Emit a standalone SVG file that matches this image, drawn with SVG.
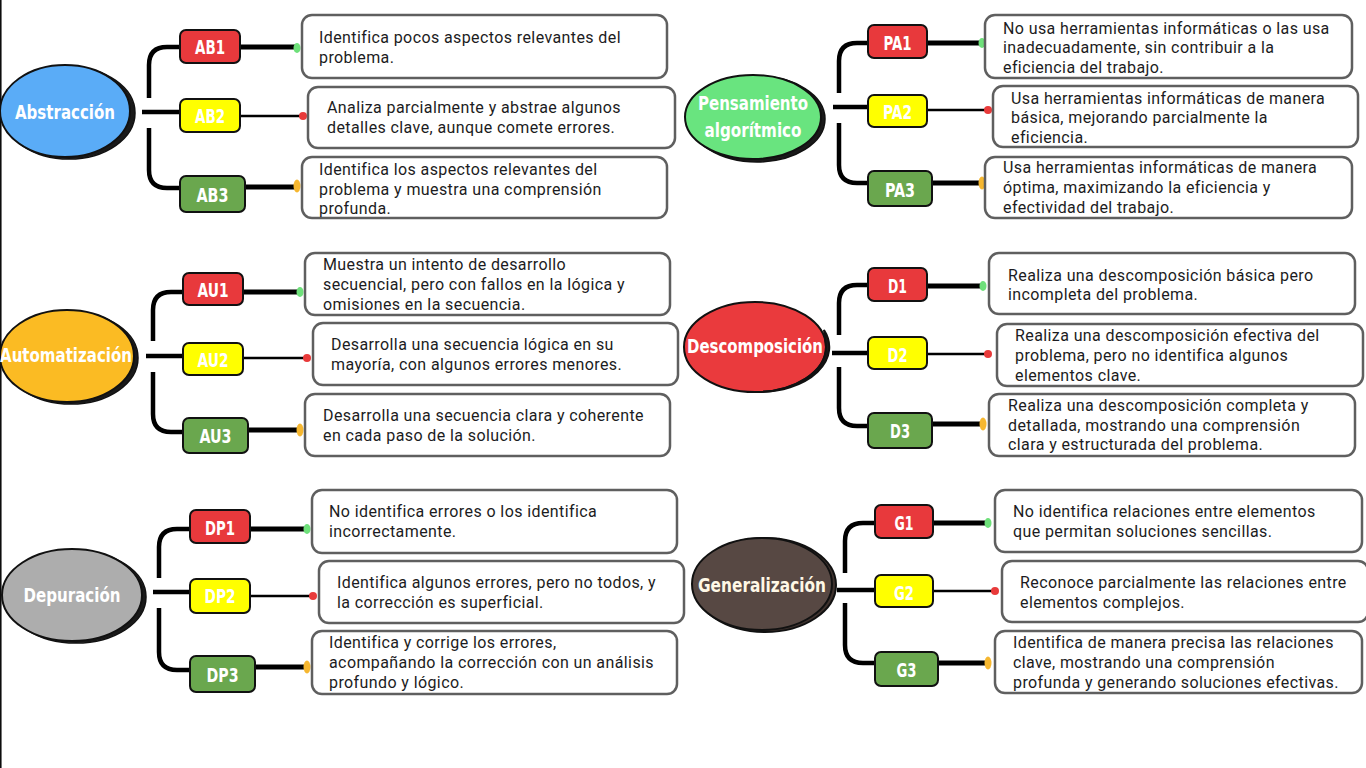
<svg xmlns="http://www.w3.org/2000/svg" width="1366" height="768" viewBox="0 0 1366 768">
<style>
.bg{fill:#fff}
.shadow{fill:#1a1a1a;stroke:#111;stroke-width:1.5}
.main{stroke:#111;stroke-width:2}
.title{font-family:"DejaVu Sans",sans-serif;font-stretch:condensed;font-weight:bold;font-size:20px;fill:#fff;text-anchor:middle}
.lbl{stroke:#111;stroke-width:2}
.lt{font-family:"DejaVu Sans",sans-serif;font-stretch:condensed;font-weight:bold;font-size:19px;fill:#fff;text-anchor:middle}
.r{fill:#e8393c}.y{fill:#ffff00}.g{fill:#6aa74e}
.box{fill:#fff;stroke:#5f5f5f;stroke-width:2.5}
.bt{font-family:Roboto,"Liberation Sans",sans-serif;font-size:16px;letter-spacing:0.4px;fill:#1c1c22}
.trunk{fill:none;stroke:#000;stroke-width:4.5}
.thick{fill:none;stroke:#000;stroke-width:5}
.thin{fill:none;stroke:#000;stroke-width:2.5}
.dg{fill:#6ee07a}.dr{fill:#e83a3a}.do{fill:#f6b730}
</style>
<rect class="bg" x="0" y="0" width="1366" height="768"/>
<line x1="0.8" y1="0" x2="0.8" y2="768" stroke="#000" stroke-width="1.5"/>

<g id="connectors">
<path class="trunk" d="M142 112 H180"/>
<path class="trunk" d="M149 98 V65 Q149 47 167 47 H180"/>
<path class="trunk" d="M149 128 V170 Q149 188 167 188 H180"/>
<path class="thick" d="M240 47 H296"/>
<path class="thin" d="M240 116 H302"/>
<path class="thick" d="M245 187 H296"/>
<ellipse class="dg" cx="297" cy="48" rx="3.5" ry="5"/>
<circle class="dr" cx="303" cy="116" r="4"/>
<ellipse class="do" cx="297" cy="186" rx="3.5" ry="6.5"/>
<path class="trunk" d="M833 107 H868"/>
<path class="trunk" d="M839 93 V61 Q839 43 857 43 H868"/>
<path class="trunk" d="M839 123 V165 Q839 183 857 183 H868"/>
<path class="thick" d="M927 43 H981"/>
<path class="thin" d="M927 110 H987"/>
<path class="thick" d="M932 183 H981"/>
<ellipse class="dg" cx="982" cy="43" rx="3.5" ry="5"/>
<circle class="dr" cx="988" cy="110" r="4"/>
<ellipse class="do" cx="982" cy="183" rx="3.5" ry="6.5"/>
<path class="trunk" d="M146 356 H183"/>
<path class="trunk" d="M153 341 V310 Q153 292 171 292 H183"/>
<path class="trunk" d="M153 372 V414 Q153 432 171 432 H183"/>
<path class="thick" d="M243 292 H299"/>
<path class="thin" d="M243 358 H306"/>
<path class="thick" d="M248 430 H299"/>
<ellipse class="dg" cx="300" cy="292" rx="3.5" ry="5"/>
<circle class="dr" cx="307" cy="358" r="4"/>
<ellipse class="do" cx="300" cy="430" rx="3.5" ry="6.5"/>
<path class="trunk" d="M832 353 H868"/>
<path class="trunk" d="M839 335 V303 Q839 285 857 285 H868"/>
<path class="trunk" d="M839 367 V408 Q839 426 857 426 H868"/>
<path class="thick" d="M927 286 H982"/>
<path class="thin" d="M927 354 H987"/>
<path class="thick" d="M932 424 H982"/>
<ellipse class="dg" cx="983" cy="286" rx="3.5" ry="5"/>
<circle class="dr" cx="988" cy="354" r="4"/>
<ellipse class="do" cx="983" cy="424" rx="3.5" ry="6.5"/>
<path class="trunk" d="M153 592 H190"/>
<path class="trunk" d="M159 578 V547 Q159 529 177 529 H190"/>
<path class="trunk" d="M159 608 V652 Q159 670 177 670 H190"/>
<path class="thick" d="M250 529 H306"/>
<path class="thin" d="M250 596 H312"/>
<path class="thick" d="M255 667 H306"/>
<ellipse class="dg" cx="307" cy="529" rx="3.5" ry="5"/>
<circle class="dr" cx="313" cy="596" r="4"/>
<ellipse class="do" cx="307" cy="667" rx="3.5" ry="6.5"/>
<path class="trunk" d="M837 590 H875"/>
<path class="trunk" d="M845 573 V541 Q845 523 863 523 H875"/>
<path class="trunk" d="M845 603 V645 Q845 663 863 663 H875"/>
<path class="thick" d="M933 523 H987"/>
<path class="thin" d="M933 591 H994"/>
<path class="thick" d="M938 663 H987"/>
<ellipse class="dg" cx="988" cy="523" rx="3.5" ry="5"/>
<circle class="dr" cx="995" cy="591" r="4"/>
<ellipse class="do" cx="988" cy="663" rx="3.5" ry="6.5"/>
</g>

<g id="abstraccion">
<ellipse class="shadow" cx="69" cy="113" rx="66" ry="46"/>
<ellipse class="main" cx="65" cy="111" rx="65" ry="46" fill="#5aacf7"/>
<text class="title" x="65" y="119" textLength="100" lengthAdjust="spacingAndGlyphs">Abstracción</text>
</g>
<g id="AB1"><rect class="lbl r" x="180" y="30" width="60" height="33" rx="6"/><text class="lt" x="210" y="54" textLength="30" lengthAdjust="spacingAndGlyphs">AB1</text></g>
<g id="AB2"><rect class="lbl y" x="180" y="99" width="60" height="33" rx="6"/><text class="lt" x="210" y="123" textLength="30" lengthAdjust="spacingAndGlyphs">AB2</text></g>
<g id="AB3"><rect class="lbl g" x="180" y="176" width="65" height="36" rx="6"/><text class="lt" x="212.5" y="202" textLength="32" lengthAdjust="spacingAndGlyphs">AB3</text></g>
<g id="AB1-desc"><rect class="box" x="302" y="15" width="365" height="63" rx="10"/><text class="bt"><tspan x="319" y="43">Identifica pocos aspectos relevantes del</tspan><tspan x="319" y="63">problema.</tspan></text></g>
<g id="AB2-desc"><rect class="box" x="308" y="87" width="367" height="61" rx="10"/><text class="bt"><tspan x="327" y="113">Analiza parcialmente y abstrae algunos</tspan><tspan x="327" y="133">detalles clave, aunque comete errores.</tspan></text></g>
<g id="AB3-desc"><rect class="box" x="302" y="157" width="365" height="61" rx="10"/><text class="bt"><tspan x="319" y="175">Identifica los aspectos relevantes del</tspan><tspan x="319" y="195">problema y muestra una comprensión</tspan><tspan x="319" y="214">profunda.</tspan></text></g>

<g id="pensamiento">
<ellipse class="shadow" cx="757" cy="119" rx="68" ry="43"/>
<ellipse class="main" cx="753" cy="117" rx="68" ry="42" fill="#69e47f"/>
<text class="title" x="753" y="110" textLength="110" lengthAdjust="spacingAndGlyphs">Pensamiento</text>
<text class="title" x="753" y="137" textLength="97" lengthAdjust="spacingAndGlyphs">algorítmico</text>
</g>
<g id="PA1"><rect class="lbl r" x="868" y="25" width="59" height="33" rx="6"/><text class="lt" x="897.5" y="50" textLength="28" lengthAdjust="spacingAndGlyphs">PA1</text></g>
<g id="PA2"><rect class="lbl y" x="868" y="95" width="59" height="32" rx="6"/><text class="lt" x="897.5" y="119" textLength="29" lengthAdjust="spacingAndGlyphs">PA2</text></g>
<g id="PA3"><rect class="lbl g" x="868" y="171" width="64" height="35" rx="6"/><text class="lt" x="900" y="197" textLength="30" lengthAdjust="spacingAndGlyphs">PA3</text></g>
<g id="PA1-desc"><rect class="box" x="985" y="15" width="367" height="63" rx="10"/><text class="bt"><tspan x="1003" y="34">No usa herramientas informáticas o las usa</tspan><tspan x="1003" y="53">inadecuadamente, sin contribuir a la</tspan><tspan x="1003" y="73">eficiencia del trabajo.</tspan></text></g>
<g id="PA2-desc"><rect class="box" x="993" y="86" width="365" height="61" rx="10"/><text class="bt"><tspan x="1011" y="104">Usa herramientas informáticas de manera</tspan><tspan x="1011" y="123">básica, mejorando parcialmente la</tspan><tspan x="1011" y="143">eficiencia.</tspan></text></g>
<g id="PA3-desc"><rect class="box" x="985" y="157" width="367" height="61" rx="10"/><text class="bt"><tspan x="1003" y="173">Usa herramientas informáticas de manera</tspan><tspan x="1003" y="193">óptima, maximizando la eficiencia y</tspan><tspan x="1003" y="213">efectividad del trabajo.</tspan></text></g>

<g id="automatizacion">
<ellipse class="shadow" cx="71" cy="358" rx="67" ry="46"/>
<ellipse class="main" cx="67" cy="356" rx="67" ry="46" fill="#fbbb23"/>
<text class="title" x="66" y="362" textLength="132" lengthAdjust="spacingAndGlyphs">Automatización</text>
</g>
<g id="AU1"><rect class="lbl r" x="183" y="273" width="60" height="32" rx="6"/><text class="lt" x="213" y="297" textLength="31" lengthAdjust="spacingAndGlyphs">AU1</text></g>
<g id="AU2"><rect class="lbl y" x="183" y="343" width="60" height="32" rx="6"/><text class="lt" x="213" y="367" textLength="31" lengthAdjust="spacingAndGlyphs">AU2</text></g>
<g id="AU3"><rect class="lbl g" x="183" y="418" width="65" height="35" rx="6"/><text class="lt" x="215.5" y="443" textLength="32" lengthAdjust="spacingAndGlyphs">AU3</text></g>
<g id="AU1-desc"><rect class="box" x="305" y="253" width="365" height="62" rx="10"/><text class="bt"><tspan x="323" y="270">Muestra un intento de desarrollo</tspan><tspan x="323" y="290">secuencial, pero con fallos en la lógica y</tspan><tspan x="323" y="310">omisiones en la secuencia.</tspan></text></g>
<g id="AU2-desc"><rect class="box" x="313" y="323" width="365" height="62" rx="10"/><text class="bt"><tspan x="331" y="350">Desarrolla una secuencia lógica en su</tspan><tspan x="331" y="370">mayoría, con algunos errores menores.</tspan></text></g>
<g id="AU3-desc"><rect class="box" x="305" y="394" width="365" height="62" rx="10"/><text class="bt"><tspan x="323" y="421">Desarrolla una secuencia clara y coherente</tspan><tspan x="323" y="441">en cada paso de la solución.</tspan></text></g>

<g id="descomposicion">
<ellipse class="main" cx="755" cy="347" rx="71" ry="45" fill="#ea3a3d"/>
<text class="title" x="755" y="353" textLength="136" lengthAdjust="spacingAndGlyphs">Descomposición</text>
<path d="M824 330 A71 45 0 0 1 759 392 A71 45 0 0 0 826 347 Z" fill="#1a1a1a" stroke="#111" stroke-width="2"/>
</g>
<g id="D1"><rect class="lbl r" x="868" y="268" width="59" height="33" rx="6"/><text class="lt" x="897.5" y="293" textLength="19" lengthAdjust="spacingAndGlyphs">D1</text></g>
<g id="D2"><rect class="lbl y" x="868" y="337" width="59" height="32" rx="6"/><text class="lt" x="897.5" y="362" textLength="20" lengthAdjust="spacingAndGlyphs">D2</text></g>
<g id="D3"><rect class="lbl g" x="868" y="413" width="64" height="35" rx="6"/><text class="lt" x="900" y="438" textLength="20" lengthAdjust="spacingAndGlyphs">D3</text></g>
<g id="D1-desc"><rect class="box" x="989" y="253" width="366" height="61" rx="10"/><text class="bt"><tspan x="1008" y="281">Realiza una descomposición básica pero</tspan><tspan x="1008" y="300">incompleta del problema.</tspan></text></g>
<g id="D2-desc"><rect class="box" x="997" y="324" width="366" height="62" rx="10"/><text class="bt"><tspan x="1015" y="341">Realiza una descomposición efectiva del</tspan><tspan x="1015" y="361">problema, pero no identifica algunos</tspan><tspan x="1015" y="381">elementos clave.</tspan></text></g>
<g id="D3-desc"><rect class="box" x="989" y="394" width="366" height="62" rx="10"/><text class="bt"><tspan x="1008" y="411">Realiza una descomposición completa y</tspan><tspan x="1008" y="431">detallada, mostrando una comprensión</tspan><tspan x="1008" y="450">clara y estructurada del problema.</tspan></text></g>

<g id="depuracion">
<ellipse class="shadow" cx="76" cy="597" rx="70" ry="46"/>
<ellipse class="main" cx="72" cy="595" rx="70" ry="46" fill="#adadad"/>
<text class="title" x="72" y="602" textLength="97" lengthAdjust="spacingAndGlyphs">Depuración</text>
</g>
<g id="DP1"><rect class="lbl r" x="190" y="510" width="60" height="33" rx="6"/><text class="lt" x="220" y="535" textLength="30" lengthAdjust="spacingAndGlyphs">DP1</text></g>
<g id="DP2"><rect class="lbl y" x="190" y="579" width="60" height="34" rx="6"/><text class="lt" x="220" y="603" textLength="31" lengthAdjust="spacingAndGlyphs">DP2</text></g>
<g id="DP3"><rect class="lbl g" x="190" y="656" width="65" height="36" rx="6"/><text class="lt" x="222.5" y="682" textLength="32" lengthAdjust="spacingAndGlyphs">DP3</text></g>
<g id="DP1-desc"><rect class="box" x="312" y="490" width="365" height="63" rx="10"/><text class="bt"><tspan x="329" y="517">No identifica errores o los identifica</tspan><tspan x="329" y="537">incorrectamente.</tspan></text></g>
<g id="DP2-desc"><rect class="box" x="319" y="561" width="365" height="62" rx="10"/><text class="bt"><tspan x="337" y="588">Identifica algunos errores, pero no todos, y</tspan><tspan x="337" y="608">la corrección es superficial.</tspan></text></g>
<g id="DP3-desc"><rect class="box" x="312" y="631" width="365" height="63" rx="10"/><text class="bt"><tspan x="329" y="648">Identifica y corrige los errores,</tspan><tspan x="329" y="668">acompañando la corrección con un análisis</tspan><tspan x="329" y="688">profundo y lógico.</tspan></text></g>

<g id="generalizacion">
<ellipse cx="765" cy="585" rx="71" ry="47" fill="#3e322e" stroke="#111" stroke-width="2"/>
<ellipse class="main" cx="762" cy="584" rx="70" ry="46" fill="#574843"/>
<text class="title" x="762" y="592" textLength="128" lengthAdjust="spacingAndGlyphs" style="fill:#fff8e6">Generalización</text>
</g>
<g id="G1"><rect class="lbl r" x="875" y="505" width="58" height="33" rx="6"/><text class="lt" x="904" y="530" textLength="19" lengthAdjust="spacingAndGlyphs">G1</text></g>
<g id="G2"><rect class="lbl y" x="875" y="575" width="58" height="32" rx="6"/><text class="lt" x="904" y="600" textLength="20" lengthAdjust="spacingAndGlyphs">G2</text></g>
<g id="G3"><rect class="lbl g" x="875" y="652" width="63" height="34" rx="6"/><text class="lt" x="906.5" y="677" textLength="20" lengthAdjust="spacingAndGlyphs">G3</text></g>
<g id="G1-desc"><rect class="box" x="995" y="490" width="367" height="62" rx="10"/><text class="bt"><tspan x="1013" y="517">No identifica relaciones entre elementos</tspan><tspan x="1013" y="537">que permitan soluciones sencillas.</tspan></text></g>
<g id="G2-desc"><rect class="box" x="1002" y="561" width="366" height="61" rx="10"/><text class="bt"><tspan x="1020" y="588">Reconoce parcialmente las relaciones entre</tspan><tspan x="1020" y="608">elementos complejos.</tspan></text></g>
<g id="G3-desc"><rect class="box" x="995" y="631" width="367" height="62" rx="10"/><text class="bt"><tspan x="1013" y="648">Identifica de manera precisa las relaciones</tspan><tspan x="1013" y="668">clave, mostrando una comprensión</tspan><tspan x="1013" y="688">profunda y generando soluciones efectivas.</tspan></text></g>
</svg>
